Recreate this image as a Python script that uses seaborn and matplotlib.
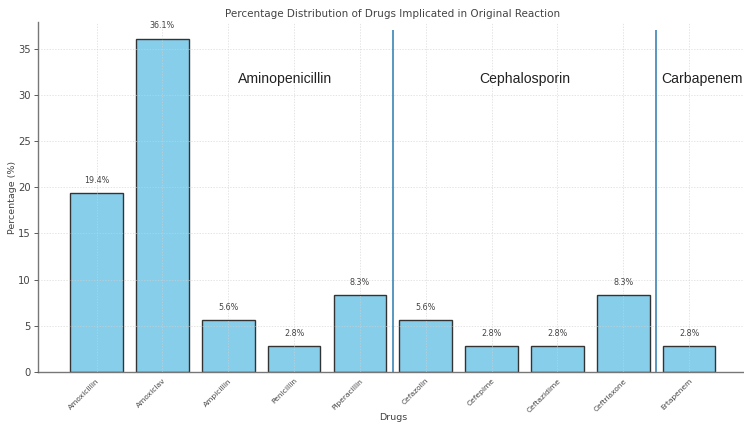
import matplotlib
matplotlib.use("Agg")
import matplotlib.pyplot as plt
import seaborn as sns
import pandas as pd

drugs = ["Amoxicillin", "Amoxiclav", "Ampicillin", "Penicillin", "Piperacillin",
         "Cefazolin", "Cefepime", "Ceftazidime", "Ceftriaxone", "Ertapenem"]
percentages = [19.4, 36.1, 5.6, 2.8, 8.3, 5.6, 2.8, 2.8, 8.3, 2.8]
group_names = ["Aminopenicillin", "Cephalosporin", "Carbapenem"]
group_label_x = [2.87, 6.51, 9.2]
group_boundaries = [4.5, 8.5]

df = pd.DataFrame({"Drug": drugs, "Percentage": percentages})

sns.set_theme(style="white")
plt.rcParams["font.family"] = ["DejaVu Sans"]

fig = plt.figure(figsize=(7.44, 4.26), dpi=100)
ax = fig.add_axes([0.051, 0.127, 0.954, 0.821])

sns.barplot(data=df, x="Drug", y="Percentage", color="skyblue",
            edgecolor="#333333", linewidth=1.0, saturation=1, width=0.8, ax=ax)

ax.set_xlim(-0.89, 9.89)
ax.set_ylim(0, 37.9)

for i, v in enumerate(percentages):
    ax.text(i, v + 0.9, f"{v}%", ha="center", va="bottom", fontsize=5.8, color="#444444")

for b in group_boundaries:
    ax.vlines(b, 0, 37, color="#2b7bb0", linewidth=1.1, zorder=3)

for name, gx in zip(group_names, group_label_x):
    ax.text(gx, 31.7, name, ha="center", va="center", fontsize=10.1,
            color="#222222", family=["Liberation Sans", "DejaVu Sans"])

ax.grid(True, linestyle=(0, (2, 2)), linewidth=0.5, color="#d0d0d0", alpha=0.8)
ax.set_axisbelow(False)

ax.set_title("Percentage Distribution of Drugs Implicated in Original Reaction",
             fontsize=7.5, color="#444444", pad=4)
ax.set_xlabel("Drugs", fontsize=6.8, color="#444444")
ax.xaxis.set_label_coords(0.5, -0.118)
ax.set_ylabel("Percentage (%)", fontsize=6.8, color="#444444")
ax.yaxis.set_label_coords(-0.029, 0.5)

ax.set_xticks(range(len(drugs)))
ax.set_xticklabels(drugs, rotation=45, ha="right", rotation_mode="anchor",
                   fontsize=5.4, color="#444444")
ax.tick_params(axis="y", labelsize=7.2, colors="#444444", length=3, width=0.6,
               left=True, pad=2)
ax.tick_params(axis="x", length=0, pad=4)

for s in ["top", "right"]:
    ax.spines[s].set_visible(False)
for s in ["left", "bottom"]:
    ax.spines[s].set_color("#777777")
    ax.spines[s].set_linewidth(1.0)

fig.savefig("out.png", dpi=100)
